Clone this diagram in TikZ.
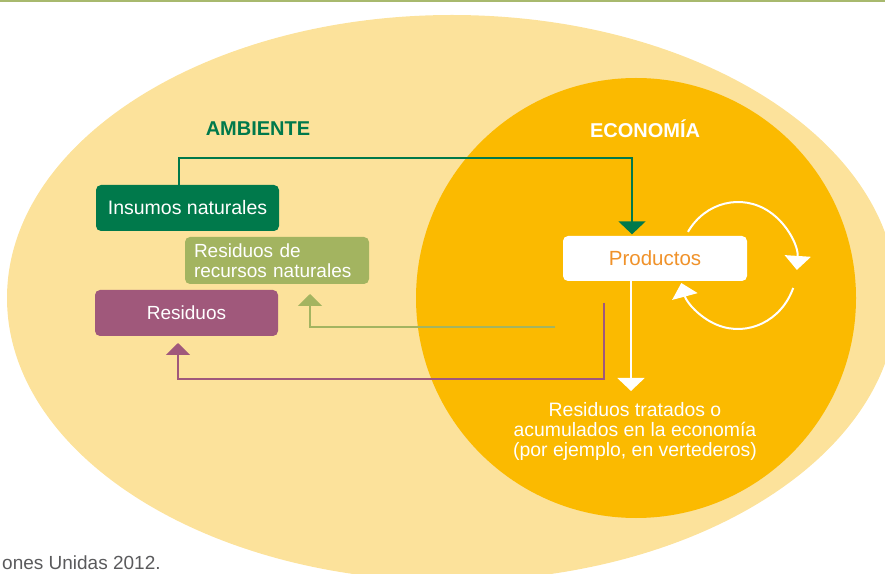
\documentclass[tikz,border=0pt]{standalone}
\usepackage{fontspec}
\setmainfont{Liberation Sans}
\usetikzlibrary{arrows.meta}
\definecolor{lightyel}{HTML}{FCE29B}
\definecolor{gold}{HTML}{FBBA00}
\definecolor{dkgreen}{HTML}{00794B}
\definecolor{olive}{HTML}{A3B460}
\definecolor{mauve}{HTML}{A0587B}
\definecolor{prodorange}{HTML}{F0922A}
\definecolor{topline}{HTML}{A8B96E}
\definecolor{footgray}{HTML}{5A5A5C}
\begin{document}
\begin{tikzpicture}[x=1pt,y=1pt,
  boxstyle/.style={rounded corners=5pt, minimum width=183pt, minimum height=46pt, inner sep=0pt, text=white,
    font=\fontsize{19.5}{20}\selectfont},
  title/.style={font=\bfseries\fontsize{20}{22}\selectfont},
  conn/.style={line width=2pt},
  tipbig/.style={-{Triangle[width=27pt,length=13pt]}},
  tipmid/.style={-{Triangle[width=24pt,length=12pt]}},
  tipcyc/.style={-{Triangle[width=26pt,length=14pt]}}
]
\useasboundingbox (0,0) rectangle (885,573);
% backgrounds
\fill[lightyel] (452,275) ellipse [x radius=445, y radius=283];
\fill[gold] (636,275) circle [radius=220];
\fill[topline] (0,571) rectangle (885,573);
% titles
\node[title, text=dkgreen] (amb) at (258,444) {AMBIENTE};
\node[title, text=white] (eco) at (645,444) {ECONOMÍA};
% boxes
\node[boxstyle, fill=dkgreen] (ins) at (187.5,365) {Insumos naturales};
\node[boxstyle, fill=olive, minimum width=184pt, minimum height=47pt, text width=166pt, inner xsep=9pt, align=left,
  font=\fontsize{19}{20}\selectfont] (rrn) at (277,312.5) {Residuos de\\recursos naturales};
\node[boxstyle, fill=mauve, font=\fontsize{19}{20}\selectfont] (res) at (186.5,260) {Residuos\hspace{21pt}};
\node[boxstyle, fill=white, text=prodorange, minimum width=184pt, minimum height=45pt, font=\fontsize{20.5}{22}\selectfont] (prod) at (655,314.5) {Productos};
% connector coordinates
\coordinate (g1) at (179,415);
\coordinate (g2) at (632,415);
\coordinate (o1) at (555,246);
\coordinate (o2) at (310,246);
\coordinate (o3) at (310,279);
\coordinate (m1) at (604,270);
\coordinate (m2) at (604,194);
\coordinate (m3) at (178,194);
\coordinate (m4) at (178,230);
\coordinate (wt) at (631,182);
% connectors
\draw[conn, dkgreen, tipbig] (ins.north -| g1) -- (g1) -- (g2) -- ([yshift=1.5pt]g2 |- prod.north);
\draw[conn, olive, tipmid] (o1) -- (o2) -- (o3);
\draw[conn, mauve, tipmid] (m1) -- (m2) -- (m3) -- (m4);
\draw[conn, white, tipbig] (prod.south -| wt) -- (wt);
% output text
\node[text=white, align=center, font=\fontsize{19.4}{20}\selectfont] (rt) at (635,142)
  {Residuos tratados o\\acumulados en la economía\\(por ejemplo, en vertederos)};
% cycle
\coordinate (cyc) at (738,307.5);
\draw[conn, white, tipcyc] ([shift={(148:59 and 63.5)}]cyc) arc[start angle=148, end angle=-4, x radius=59, y radius=63.5];
\draw[conn, white, tipcyc] ([shift={(-20.7:59 and 63.5)}]cyc) arc[start angle=-20.7, end angle=-164, x radius=59, y radius=63.5];
% footer
\node[anchor=base west, inner sep=0pt, text=footgray, font=\fontsize{19}{20}\selectfont] (foot) at (2,3.5) {ones Unidas 2012.};
\end{tikzpicture}
\end{document}
